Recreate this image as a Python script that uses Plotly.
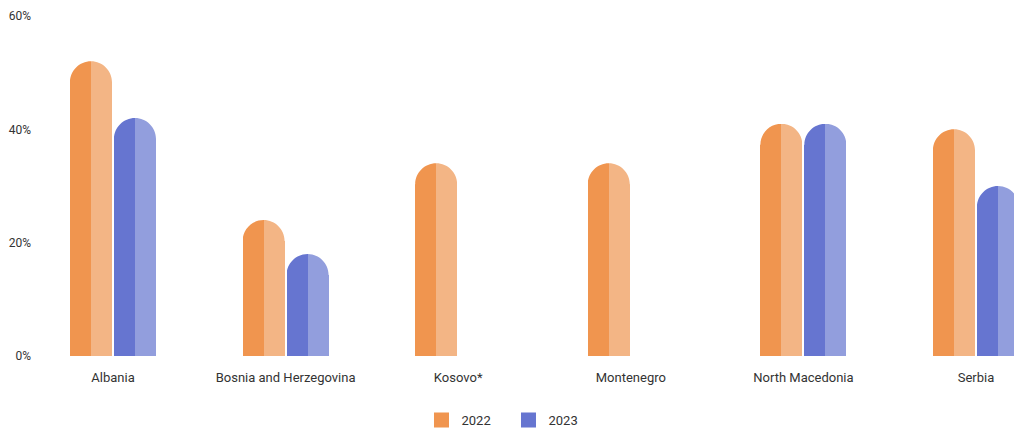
import plotly.graph_objects as go

categories = ["Albania", "Bosnia and Herzegovina", "Kosovo*", "Montenegro", "North Macedonia", "Serbia"]
years = ["2022", "2023"]
values_2022 = [52, 24, 34, 34, 41, 40]
values_2023 = [42, 18, None, None, 41, 30]
y_tickvals = [0, 20, 40, 60]
y_ticktext = ["0%", "20%", "40%", "60%"]

dark_colors = {"2022": "#F0954F", "2023": "#6675D0"}
light_colors = {"2022": "#F3B585", "2023": "#929EDD"}

# layout geometry (pixels)
W, H = 1014, 432
ML, MR, MT, MB = 40, 0, 16, 76
PX_PER_CAT = 172.6
FIRST_CENTER = 113
BAR_PX = 42
GAP_PX = 2
R_PX = BAR_PX / 2

x0 = -(FIRST_CENTER - ML) / PX_PER_CAT
x1 = x0 + (W - ML - MR) / PX_PER_CAT

series = {"2022": values_2022, "2023": values_2023}
left_px = {"2022": -GAP_PX / 2 - BAR_PX, "2023": GAP_PX / 2}

fig = go.Figure()
idx = list(range(len(categories)))
for yr in years:
    L = left_px[yr]
    half = BAR_PX / 2
    for part, off, col in (("dark", L, dark_colors[yr]), ("light", L + half, light_colors[yr])):
        fig.add_trace(go.Bar(
            x=idx, y=series[yr],
            offset=off / PX_PER_CAT, width=half / PX_PER_CAT,
            marker=dict(color=col, line=dict(width=0)),
            name=yr, showlegend=False, hoverinfo="skip",
        ))

# legend entries
for yr in years:
    fig.add_trace(go.Scatter(
        x=[None], y=[None], mode="markers", name=yr,
        marker=dict(symbol="square", size=15, color=dark_colors[yr]),
    ))

# white masks to round the top of each bar
k = 0.5523
shapes = []
for yr in years:
    L = left_px[yr]
    Rr = L + BAR_PX
    r = R_PX
    for i, v in enumerate(series[yr]):
        if v is None:
            continue
        p_left = (f"M {L-1},1 L {L+r},1 L {L+r},0 C {L+r-k*r},0 {L},{-r+k*r} {L},{-r} "
                  f"L {L-1},{-r} Z")
        p_right = (f"M {Rr+1},1 L {Rr-r},1 L {Rr-r},0 C {Rr-r+k*r},0 {Rr},{-r+k*r} {Rr},{-r} "
                   f"L {Rr+1},{-r} Z")
        for p in (p_left, p_right):
            shapes.append(dict(
                type="path", path=p, xref="x", yref="y",
                xsizemode="pixel", ysizemode="pixel", xanchor=i, yanchor=v,
                fillcolor="white", line=dict(width=0), layer="above",
            ))

fig.update_layout(
    width=W, height=H, autosize=False,
    margin=dict(l=ML, r=MR, t=MT, b=MB),
    paper_bgcolor="white", plot_bgcolor="white",
    font=dict(family="Roboto", size=13, color="#333333"),
    barmode="overlay", bargap=0,
    shapes=shapes,
    xaxis=dict(range=[x0, x1], tickvals=idx, ticktext=categories, showgrid=False,
               zeroline=False, showline=False, ticks="", ticklabelstandoff=12,
               tickfont=dict(size=13, color="#333333"), fixedrange=True, automargin=False),
    yaxis=dict(range=[0, 60], tickvals=y_tickvals, ticktext=y_ticktext, showgrid=False,
               zeroline=False, showline=False, ticks="", ticklabelstandoff=8,
               tickfont=dict(size=12, color="#333333"), fixedrange=True, automargin=False),
    legend=dict(orientation="h", x=0.481, xanchor="center",
                yref="container", y=(H - 420) / H, yanchor="middle",
                font=dict(size=13, color="#333333"), entrywidth=42, itemclick=False),
    showlegend=True,
)

fig.write_html("out.html", config={"displayModeBar": False, "responsive": False},
               post_script="document.body.style.margin='0';")
